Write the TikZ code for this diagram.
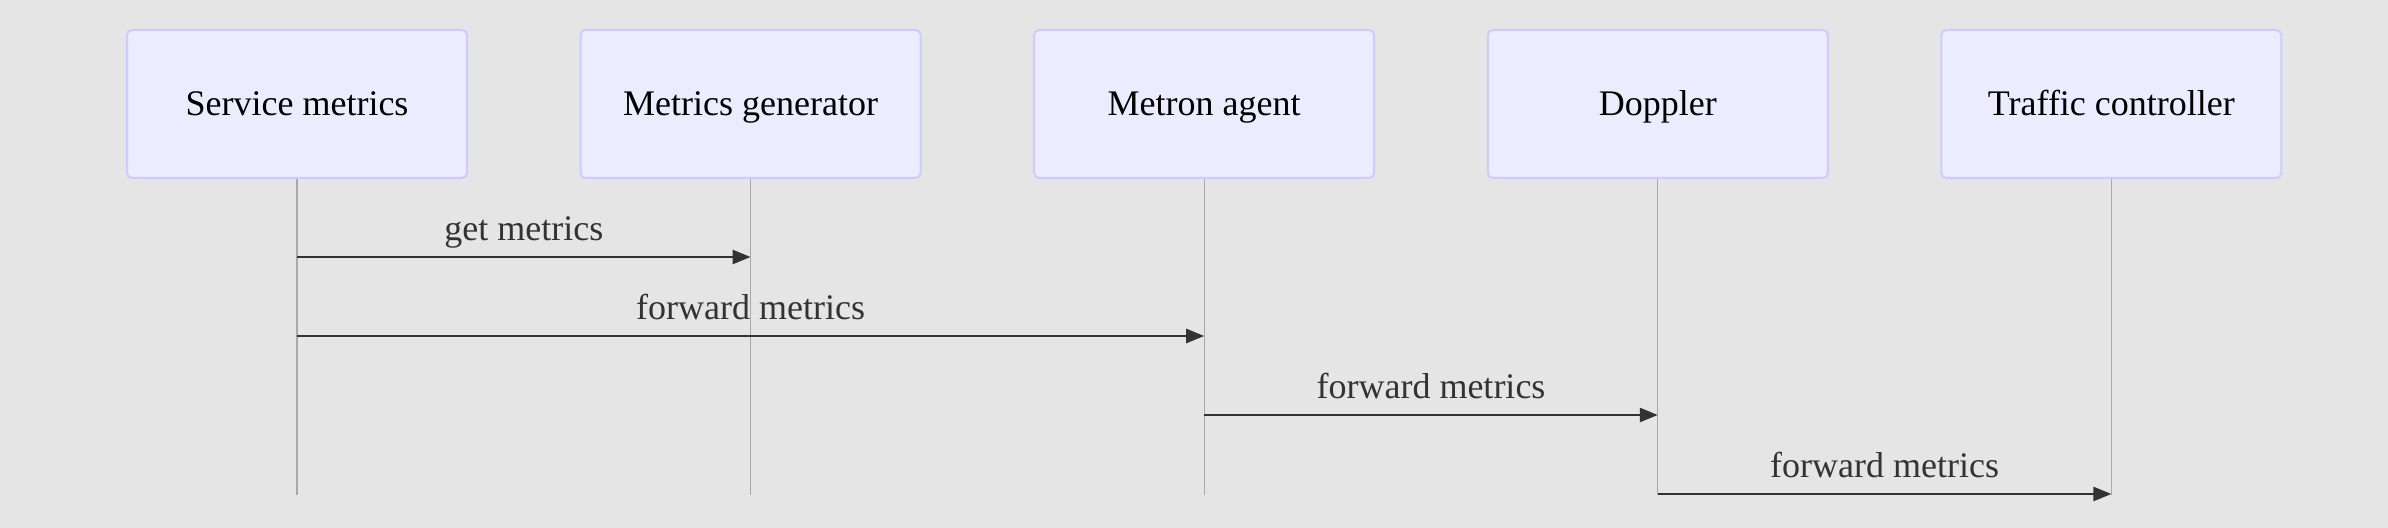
\documentclass[tikz,border=0pt]{standalone}
\usepackage{fontspec}
\setmainfont{Liberation Serif}
\usetikzlibrary{arrows.meta, positioning}
\definecolor{bgcolor}{HTML}{E5E5E5}
\definecolor{actorfill}{HTML}{ECECFF}
\definecolor{actorline}{HTML}{CCCCFF}
\definecolor{lifecolor}{HTML}{A8A8A8}
\definecolor{msgcolor}{HTML}{333333}

\begin{document}
\begin{tikzpicture}[
    x=0.5pt, y=-0.5pt,
    every node/.style={font=\fontsize{18}{22}\selectfont},
    actor/.style={draw=actorline, fill=actorfill, line width=1pt, rounded corners=2.5pt,
        minimum width=170pt, minimum height=74pt, inner sep=0pt,
        text height=12.5pt, text depth=1pt},
    life/.style={draw=lifecolor, line width=0.6pt},
    msg/.style={draw=msgcolor, line width=1.3pt, -{Triangle[length=9pt, width=7pt]}},
    msglab/.style={text=msgcolor, midway, anchor=base, yshift=8pt},
    node distance=55.8pt,
]
% canvas
\fill[bgcolor] (0,0) rectangle (2388,528);
\useasboundingbox (0,0) rectangle (2388,528);

% participants
\node[actor] (svc) at (297,104) {Service metrics};
\node[actor, right=of svc] (gen) {Metrics generator};
\node[actor, right=of gen] (metron) {Metron agent};
\node[actor, right=of metron] (doppler) {Doppler};
\node[actor, right=of doppler] (traffic) {Traffic controller};

% rows of the messages
\path (0,257) coordinate (r1) (0,336) coordinate (r2)
      (0,415) coordinate (r3) (0,494) coordinate (r4)
      (0,495) coordinate (rend);

% lifelines
\foreach \p in {svc, gen, metron, doppler, traffic}{
    \coordinate (\p-end) at (\p |- rend);
    \draw[life] (\p.south) -- (\p-end);
}

% messages
\draw[msg] (svc |- r1) -- node[msglab] {get metrics} (gen |- r1);
\draw[msg] (svc |- r2) -- node[msglab] {forward metrics} (metron |- r2);
\draw[msg] (metron |- r3) -- node[msglab] {forward metrics} (doppler |- r3);
\draw[msg] (doppler |- r4) -- node[msglab] {forward metrics} (traffic |- r4);
\end{tikzpicture}
\end{document}
